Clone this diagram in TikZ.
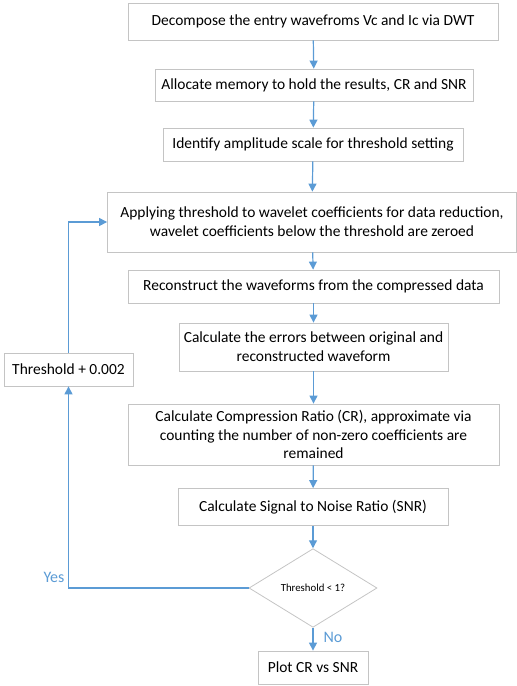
\documentclass[tikz,border=0pt]{standalone}
\usepackage{fontspec}
\setmainfont{Carlito}
\usepackage{xcolor}
\usepackage{tikz}
\usetikzlibrary{arrows.meta,shapes.geometric}
\definecolor{flowblue}{HTML}{5B9BD5}
\definecolor{edgegray}{HTML}{C4C4C4}
\tikzset{
  ar/.style={-{Triangle[length=6pt,width=6pt]},line width=0.9pt,flowblue},
  box/.style={draw=edgegray,line width=0.6pt,fill=white,align=center,inner sep=2pt,font=\fontsize{11.6}{14}\selectfont},
  test/.style={diamond,draw=edgegray,line width=0.6pt,inner sep=0pt,minimum width=96pt,minimum height=59pt,font=\fontsize{8.1}{10}\selectfont},
  lbl/.style={text=flowblue,font=\fontsize{12}{14}\selectfont,inner sep=0pt}
}
\begin{document}
\begin{tikzpicture}[x=0.75pt,y=-0.75pt]
\useasboundingbox (0,0) rectangle (517,686);
% main column of steps
\node[box,minimum width=277.5pt,minimum height=27.75pt] (dwt) at (313,21.5) {Decompose the entry wavefroms Vc and Ic via DWT};
\node[box,minimum width=238.5pt,minimum height=24pt] (mem) at (314,85) {Allocate memory to hold the results, CR and SNR};
\node[box,minimum width=225pt,minimum height=24.75pt] (amp) at (313,144.5) {Identify amplitude scale for threshold setting};
\node[box,minimum width=306.75pt,minimum height=45pt] (apply) at (312,222) {Applying threshold to wavelet coefficients for data reduction,\\wavelet coefficients below the threshold are zeroed};
\node[box,minimum width=278.25pt,minimum height=24.75pt] (rec) at (313.5,286.5) {Reconstruct the waveforms from the compressed data};
\node[box,minimum width=201.75pt,minimum height=36pt] (err) at (313.5,347) {Calculate the errors between original and\\reconstructed waveform};
\node[box,minimum width=278.25pt,minimum height=45.75pt] (cr) at (313.5,434.5) {Calculate Compression Ratio (CR), approximate via\\counting the number of non-zero coefficients are\\remained};
\node[box,minimum width=202.5pt,minimum height=27.75pt] (snr) at (313,507) {Calculate Signal to Noise Ratio (SNR)};
\node[test] (dec) at (313,588) {Threshold < 1?};
\node[box,minimum width=82.5pt,minimum height=24.75pt] (plot) at (313,667.5) {Plot CR vs SNR};
% loop back
\node[box,minimum width=96.75pt,minimum height=24.75pt] (thr) at (68.5,369.5) {Threshold + 0.002};
\node[lbl] (yes) at (54,577) {Yes};
\node[lbl] (no) at (333,637) {No};

\draw[ar] (dwt) -- (mem);
\draw[ar] (mem) -- (amp);
\draw[ar] (amp) -- (apply);
\draw[ar] (apply) -- (rec);
\draw[ar] (rec) -- (err);
\draw[ar] (err) -- (cr);
\draw[ar] (cr) -- (snr);
\draw[ar] (snr) -- (dec);
\draw[ar] (dec) -- (plot);
\draw[ar] (dec.west) -| (thr.south);
\draw[ar] (thr.north) |- (apply.west);
\end{tikzpicture}
\end{document}
